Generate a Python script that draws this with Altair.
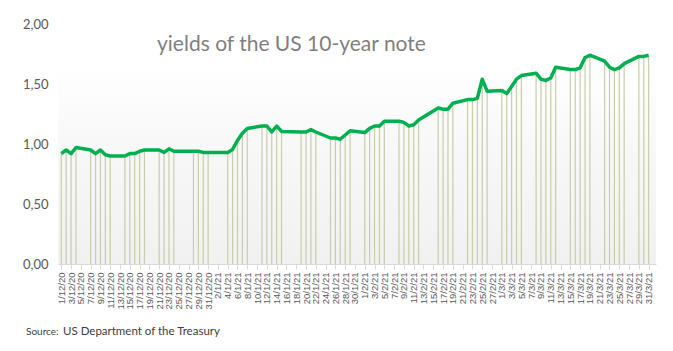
import altair as alt
import pandas as pd

dates = [
    "2020-12-01", "2020-12-02", "2020-12-03", "2020-12-04", "2020-12-07", "2020-12-08",
    "2020-12-09", "2020-12-10", "2020-12-11", "2020-12-14", "2020-12-15", "2020-12-16",
    "2020-12-17", "2020-12-18", "2020-12-21", "2020-12-22", "2020-12-23", "2020-12-24",
    "2020-12-28", "2020-12-29", "2020-12-30", "2020-12-31",
    "2021-01-04", "2021-01-05", "2021-01-06", "2021-01-07", "2021-01-08", "2021-01-11",
    "2021-01-12", "2021-01-13", "2021-01-14", "2021-01-15", "2021-01-19", "2021-01-20",
    "2021-01-21", "2021-01-22", "2021-01-25", "2021-01-26", "2021-01-27", "2021-01-28",
    "2021-01-29",
    "2021-02-01", "2021-02-02", "2021-02-03", "2021-02-04", "2021-02-05", "2021-02-08",
    "2021-02-09", "2021-02-10", "2021-02-11", "2021-02-12", "2021-02-16", "2021-02-17",
    "2021-02-18", "2021-02-19", "2021-02-22", "2021-02-23", "2021-02-24", "2021-02-25",
    "2021-02-26",
    "2021-03-01", "2021-03-02", "2021-03-03", "2021-03-04", "2021-03-05", "2021-03-08",
    "2021-03-09", "2021-03-10", "2021-03-11", "2021-03-12", "2021-03-15", "2021-03-16",
    "2021-03-17", "2021-03-18", "2021-03-19", "2021-03-22", "2021-03-23", "2021-03-24",
    "2021-03-25", "2021-03-26", "2021-03-29", "2021-03-30", "2021-03-31",
]
yields = [
    0.92, 0.95, 0.92, 0.97, 0.95, 0.92,
    0.95, 0.91, 0.90, 0.90, 0.92, 0.92,
    0.94, 0.95, 0.95, 0.93, 0.96, 0.94,
    0.94, 0.94, 0.93, 0.93,
    0.93, 0.955, 1.03, 1.09, 1.13, 1.15,
    1.15, 1.10, 1.15, 1.105, 1.10, 1.10,
    1.12, 1.10, 1.05, 1.05, 1.04, 1.075,
    1.11,
    1.095, 1.13, 1.15, 1.15, 1.19, 1.19,
    1.18, 1.15, 1.16, 1.20, 1.30, 1.29,
    1.29, 1.34, 1.37, 1.37, 1.38, 1.54,
    1.44,
    1.445, 1.42, 1.48, 1.54, 1.57, 1.59,
    1.54, 1.53, 1.55, 1.64, 1.62, 1.62,
    1.635, 1.72, 1.74, 1.69, 1.64, 1.62,
    1.635, 1.67, 1.73, 1.73, 1.74,
]
y_ticks = [0.0, 0.5, 1.0, 1.5, 2.0]
x_tick_days = list(range(0, 121, 2))
start_date = "2020-12-01"
title_text = "yields of the US 10-year note"
source_label = "Source:"
source_text = "US Department of the Treasury"

df = pd.DataFrame({"date": pd.to_datetime(dates), "yield": yields})
df["day"] = (df["date"] - pd.Timestamp(start_date)).dt.days

W, H = 598, 240
GRAY = "#595959"

x_scale = alt.Scale(domain=[-0.67, 121.5], nice=False, zero=False)
y_scale = alt.Scale(domain=[0, 2], nice=False)

x_axis = alt.Axis(
    values=x_tick_days,
    labelExpr="timeFormat(datetime(2020, 11, 1 + datum.value), '%-d/%-m/%y')",
    labelAngle=-90, labelFontSize=9.5, labelColor=GRAY, labelFont="Liberation Sans",
    labelPadding=3, domainColor="#d9d9d9", tickColor="#d9d9d9", tickSize=5,
    grid=False, title=None, labelOverlap=False, labelBound=False, labelFlush=False,
)
y_axis = alt.Axis(
    values=y_ticks,
    labelExpr="replace(format(datum.value, '.2f'), '.', ',')",
    labelFontSize=13, labelColor=GRAY, labelFont="Lato", labelPadding=10,
    domain=False, ticks=False, grid=False, title=None,
)

bg = alt.Chart(pd.DataFrame({"a": [0]})).mark_rect(
    color=alt.Gradient(
        gradient="linear", x1=0, x2=0, y1=0, y2=1,
        stops=[alt.GradientStop(color="#ffffff", offset=0),
               alt.GradientStop(color="#f8f8f8", offset=0.4),
               alt.GradientStop(color="#f1f1f1", offset=1)],
    )
).encode(x=alt.value(0), x2=alt.value(W), y=alt.value(41), y2=alt.value(H))

base = alt.Chart(df)

drops = base.mark_rule(color="#c8cdaa", strokeWidth=1.2).encode(
    x=alt.X("day:Q", scale=x_scale, axis=x_axis),
    y=alt.Y("yield:Q", scale=y_scale, axis=y_axis),
    y2=alt.datum(0),
)

line = base.mark_line(color="#00b050", strokeWidth=3.5, strokeJoin="round").encode(
    x=alt.X("day:Q", scale=x_scale, axis=x_axis),
    y=alt.Y("yield:Q", scale=y_scale, axis=y_axis),
)

title = alt.Chart(pd.DataFrame({"t": [title_text]})).mark_text(
    align="left", baseline="middle", font="Lato", fontSize=21, color="#7f7f7f"
).encode(x=alt.value(99), y=alt.value(21), text="t:N")

src1 = alt.Chart(pd.DataFrame({"t": [source_label]})).mark_text(
    align="left", baseline="middle", font="Lato", fontSize=10, color="#404040"
).encode(x=alt.value(-32), y=alt.value(308), text="t:N")

src2 = alt.Chart(pd.DataFrame({"t": [source_text]})).mark_text(
    align="left", baseline="middle", font="Lato", fontSize=11.5, color="#404040"
).encode(x=alt.value(5), y=alt.value(308), text="t:N")

chart = alt.layer(bg, drops, line, title, src1, src2).properties(
    width=W, height=H,
    autosize=alt.AutoSizeParams(type="none"),
    padding={"left": 58, "top": 24, "right": 17, "bottom": 87},
    background="white",
).configure_view(stroke=None).configure_axis(labelOverlap=False)

chart.save("out.html", embed_options={"renderer": "svg", "actions": False})
